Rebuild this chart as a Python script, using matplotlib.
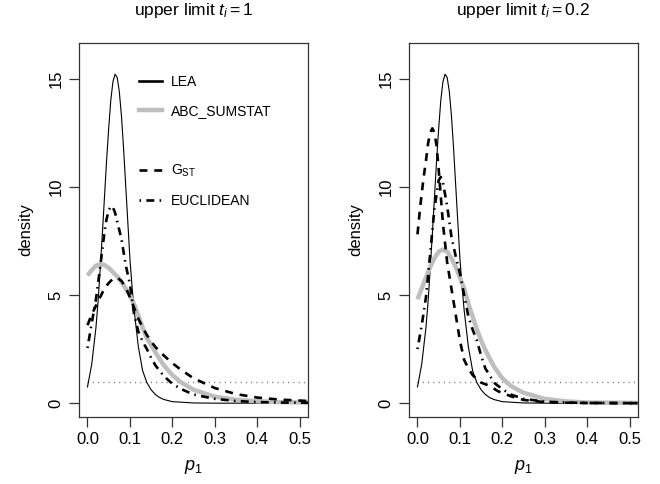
import matplotlib
matplotlib.use("Agg")
import matplotlib.pyplot as plt
from matplotlib.lines import Line2D

plt.rcParams['font.family'] = ['Liberation Sans', 'DejaVu Sans']
plt.rcParams['mathtext.fontset'] = 'custom'
plt.rcParams['mathtext.rm'] = 'Liberation Sans'
plt.rcParams['mathtext.it'] = 'Liberation Sans:italic'

# posterior densities of p1

# LEA (same in both panels)
lea_x = [0.0, 0.01, 0.02, 0.025, 0.03, 0.035, 0.04, 0.045, 0.05, 0.055, 0.06, 0.065,
         0.07, 0.075, 0.08, 0.085, 0.09, 0.095, 0.10, 0.105, 0.11, 0.12, 0.13, 0.14,
         0.15, 0.16, 0.17, 0.18, 0.20, 0.25, 0.30, 0.52]
lea_y = [0.75, 1.8, 3.5, 4.7, 6.2, 7.8, 9.5, 11.2, 12.7, 14.0, 14.85, 15.2,
         15.05, 14.4, 13.3, 11.8, 10.1, 8.4, 6.7, 5.4, 4.3, 2.6, 1.5, 0.95,
         0.62, 0.4, 0.26, 0.17, 0.07, 0.01, 0.0, 0.0]

# upper limit t_i = 1
abc1_x = [0.0, 0.01, 0.02, 0.03, 0.04, 0.05, 0.06, 0.07, 0.08, 0.09, 0.10, 0.11, 0.12,
          0.13, 0.14, 0.15, 0.16, 0.18, 0.20, 0.22, 0.25, 0.30, 0.35, 0.40, 0.45, 0.52]
abc1_y = [5.9, 6.15, 6.35, 6.42, 6.38, 6.25, 6.05, 5.85, 5.6, 5.3, 5.0, 4.55, 4.05,
          3.5, 3.0, 2.7, 2.35, 1.75, 1.3, 0.97, 0.62, 0.3, 0.16, 0.09, 0.05, 0.03]

gst1_x = [0.0, 0.01, 0.02, 0.03, 0.04, 0.05, 0.06, 0.07, 0.08, 0.09, 0.10, 0.11, 0.12,
          0.13, 0.14, 0.15, 0.16, 0.18, 0.20, 0.22, 0.25, 0.30, 0.35, 0.40, 0.45, 0.52]
gst1_y = [3.6, 4.1, 4.5, 4.9, 5.3, 5.55, 5.75, 5.8, 5.65, 5.35, 4.9, 4.4, 3.9,
          3.5, 3.15, 2.85, 2.6, 2.2, 1.85, 1.55, 1.15, 0.7, 0.42, 0.26, 0.17, 0.1]

euc1_x = [0.0, 0.01, 0.02, 0.03, 0.04, 0.045, 0.05, 0.055, 0.06, 0.065, 0.07, 0.08, 0.09,
          0.10, 0.11, 0.12, 0.13, 0.14, 0.15, 0.16, 0.18, 0.20, 0.22, 0.25, 0.30, 0.35,
          0.40, 0.45, 0.52]
euc1_y = [2.55, 3.7, 4.8, 6.3, 7.9, 8.5, 8.9, 9.1, 9.05, 8.8, 8.4, 7.6, 6.4,
          5.5, 4.1, 3.3, 2.85, 2.5, 2.1, 1.75, 1.25, 0.9, 0.66, 0.4, 0.2, 0.1,
          0.05, 0.03, 0.02]

# upper limit t_i = 0.2
abc2_x = [0.0, 0.01, 0.02, 0.03, 0.04, 0.05, 0.06, 0.07, 0.08, 0.09, 0.10, 0.11, 0.12,
          0.13, 0.14, 0.15, 0.16, 0.18, 0.20, 0.22, 0.25, 0.30, 0.35, 0.40, 0.52]
abc2_y = [4.8, 5.3, 5.8, 6.3, 6.7, 7.0, 7.1, 7.0, 6.7, 6.3, 5.8, 5.3, 4.6,
          4.0, 3.4, 2.9, 2.45, 1.7, 1.15, 0.8, 0.48, 0.2, 0.08, 0.03, 0.01]

gst2_x = [0.0, 0.005, 0.01, 0.015, 0.02, 0.025, 0.03, 0.035, 0.04, 0.045, 0.05, 0.06,
          0.07, 0.08, 0.09, 0.10, 0.11, 0.12, 0.13, 0.14, 0.15, 0.17, 0.19, 0.22, 0.25,
          0.30, 0.35, 0.40, 0.52]
gst2_y = [7.8, 8.8, 9.7, 10.5, 11.2, 12.0, 12.5, 12.7, 12.5, 11.9, 10.8, 8.3,
          6.5, 5.3, 4.1, 2.9, 2.0, 1.6, 1.3, 1.1, 0.95, 0.8, 0.55, 0.32, 0.15,
          0.05, 0.02, 0.01, 0.0]

euc2_x = [0.0, 0.01, 0.02, 0.03, 0.04, 0.05, 0.055, 0.06, 0.07, 0.08, 0.09, 0.10, 0.11,
          0.12, 0.13, 0.14, 0.15, 0.16, 0.17, 0.18, 0.20, 0.22, 0.25, 0.30, 0.35, 0.40, 0.52]
euc2_y = [2.5, 3.6, 4.9, 6.9, 9.0, 10.3, 10.45, 10.2, 9.1, 7.7, 6.8, 6.0, 5.0,
          4.0, 3.4, 2.9, 2.2, 1.6, 1.3, 0.95, 0.65, 0.4, 0.2, 0.07, 0.03, 0.01, 0.0]

# uniform prior
prior_x = [0.0, 1.0]
prior_y = [1.0, 1.0]

titles = [r"upper limit $t_i = 1$", r"upper limit $t_i = 0.2$"]
panels = [(abc1_x, abc1_y, gst1_x, gst1_y, euc1_x, euc1_y),
          (abc2_x, abc2_y, gst2_x, gst2_y, euc2_x, euc2_y)]

grey = '#bebebe'
box = '#333333'
dash_gst = (0, (3.0, 2.6))
dash_euc = (0, (0.6, 2.0, 3.0, 2.0))

fig = plt.figure(figsize=(6.6, 4.84), dpi=100)
lefts = [0.1197, 0.6197]

for k in range(2):
    ax = fig.add_axes([lefts[k], 0.1384, 0.347, 0.7727])
    ax_x, ax_y, g_x, g_y, e_x, e_y = panels[k]

    ax.plot(prior_x, prior_y, color='#777777', lw=1.0, linestyle=(0, (0.8, 3.0)))
    ax.plot(lea_x, lea_y, color='black', lw=0.8)
    ax.plot(ax_x, ax_y, color=grey, lw=3.2, solid_capstyle='butt')
    ax.plot(g_x, g_y, color='black', lw=1.9, linestyle=dash_gst)
    ax.plot(e_x, e_y, color='black', lw=1.9, linestyle=dash_euc)

    ax.set_xlim(-0.02, 0.52)
    ax.set_ylim(-0.64, 16.64)
    ax.set_xticks([0.0, 0.1, 0.2, 0.3, 0.4, 0.5])
    ax.set_xticklabels(['0.0', '0.1', '0.2', '0.3', '0.4', '0.5'])
    ax.set_yticks([0, 5, 10, 15])
    ax.tick_params(length=7, width=0.9, color=box, labelsize=12, pad=4)
    plt.setp(ax.get_yticklabels(), rotation=90, va='center')
    for s in ax.spines.values():
        s.set_color(box)
        s.set_linewidth(0.9)

    ax.set_title(titles[k], fontsize=12.5, pad=20)
    ax.set_ylabel('density', fontsize=12, labelpad=11)
    ax.set_xlabel(r'$p_1$', fontsize=13, labelpad=8)

    if k == 0:
        handles = [Line2D([], [], color='black', lw=1.9),
                   Line2D([], [], color=grey, lw=3.2),
                   Line2D([], [], color='none'),
                   Line2D([], [], color='black', lw=1.9, linestyle=dash_gst),
                   Line2D([], [], color='black', lw=1.9, linestyle=dash_euc)]
        labels = ['LEA', 'ABC_SUMSTAT', ' ', r'G$_{\rm ST}$', 'EUCLIDEAN']
        ax.legend(handles, labels, loc='upper left', bbox_to_anchor=(0.262, 0.915),
                  frameon=False, fontsize=10, handlelength=1.65, handletextpad=0.65,
                  labelspacing=1.1, borderpad=0, borderaxespad=0)

fig.savefig('out.png', dpi=100)
